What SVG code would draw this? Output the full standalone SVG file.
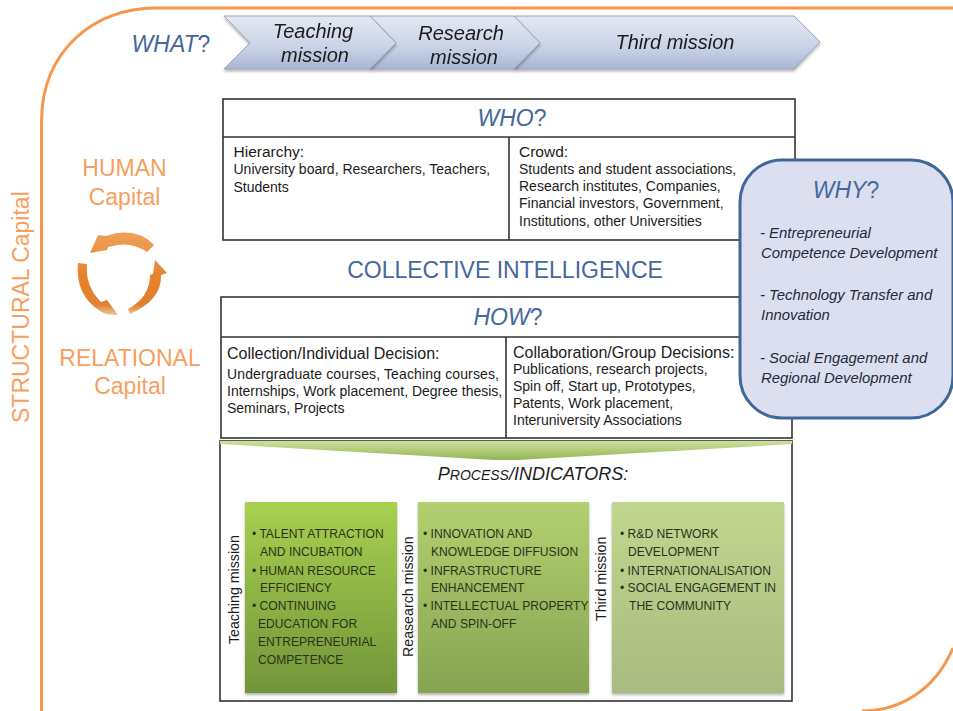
<svg xmlns="http://www.w3.org/2000/svg" width="953" height="711" viewBox="0 0 953 711">
<style>
text{font-family:"Liberation Sans",Arial,sans-serif}
.o{fill:#f79f5e;font-size:23px}
.b{fill:#45689c}
.k{fill:#1c1c1c;font-size:14px}
.h{fill:#1c1c1c;font-size:15.5px}
.h2{fill:#1c1c1c;font-size:16px}
.i{fill:#1c1c1c;font-style:italic;font-size:20px}
.y{fill:#1f2a3c;font-style:italic;font-size:14.9px}
.g{fill:#2a331a;font-size:12.1px}
.v{fill:#1c1c1c;font-size:14.2px}
.box{fill:#fff;stroke:#333;stroke-width:1.6}
.ln{fill:none;stroke:#333;stroke-width:1.6}
</style>
<defs>
<linearGradient id="ch" x1="0" y1="0" x2="0" y2="1"><stop offset="0" stop-color="#e4e8f3"/><stop offset=".6" stop-color="#c9d2e6"/><stop offset="1" stop-color="#a9b6d3"/></linearGradient>
<linearGradient id="g1" x1="0" y1="0" x2="0" y2="1"><stop offset="0" stop-color="#a8d050"/><stop offset="1" stop-color="#72953a"/></linearGradient>
<linearGradient id="g2" x1="0" y1="0" x2="0" y2="1"><stop offset="0" stop-color="#b3d070"/><stop offset="1" stop-color="#86a352"/></linearGradient>
<linearGradient id="g3" x1="0" y1="0" x2="0" y2="1"><stop offset="0" stop-color="#c1d68f"/><stop offset="1" stop-color="#a9bb80"/></linearGradient>
<linearGradient id="ar" x1="0" y1="0" x2="0" y2="1"><stop offset="0" stop-color="#cfe09a"/><stop offset="1" stop-color="#93b556"/></linearGradient>
<linearGradient id="or" gradientUnits="userSpaceOnUse" x1="0" y1="230" x2="0" y2="318"><stop offset="0" stop-color="#f0a25c"/><stop offset=".55" stop-color="#e5822a"/><stop offset=".85" stop-color="#e08030"/><stop offset="1" stop-color="#f6d8bd"/></linearGradient>
<filter id="sh" x="-5%" y="-5%" width="110%" height="115%"><feDropShadow dx="0" dy="2" stdDeviation="1.5" flood-color="#000" flood-opacity=".3"/></filter>
<filter id="bl" x="-10%" y="-10%" width="120%" height="120%"><feGaussianBlur stdDeviation=".7"/></filter>
</defs>

<g id="frame"><path d="M41.500 711V122C41.500 50 95 8 155 8H953M953 648C935 690 900 711 862 711" fill="none" stroke="#f7964b" stroke-width="3"/></g>
<g id="structural"><text transform="translate(29 423) rotate(-90)" class="o">STRUCTURAL Capital</text></g>
<g id="human"><text x="124.500" y="176" text-anchor="middle" class="o">HUMAN</text><text x="124.500" y="205" text-anchor="middle" class="o">Capital</text></g>
<g id="relational"><text x="130" y="366" text-anchor="middle" class="o">RELATIONAL</text><text x="130" y="394" text-anchor="middle" class="o">Capital</text></g>
<g id="cycle" fill="url(#or)" filter="url(#bl)">
<path d="M154 245Q136 226 106 236L98 235L90 253L107 250L108 247Q130 240 147 252Z"/>
<path d="M78 263L87 264Q85 286 101 302L107 300L118 315Q105 315 100 311Q75 295 78 263Z"/>
<path d="M155 260L167 273L161 275Q162 300 130 314L128 309Q150 297 150 275L153 274Z"/>
</g>

<g id="what"><text x="171" y="52" text-anchor="middle" fill="#45689c" font-size="23"><tspan font-style="italic">WHAT</tspan>?</text></g>
<g id="chevron-third" filter="url(#sh)"><path d="M515 16H794L820 42L794 69H515Z" fill="url(#ch)" stroke="#9aa3b8"/><text x="675" y="48.500" text-anchor="middle" class="i">Third mission</text></g>
<g id="chevron-research" filter="url(#sh)"><path d="M370 16H514L540 43L514 69H370L396 43Z" fill="url(#ch)" stroke="#9aa3b8"/><text x="461" y="39.500" text-anchor="middle" class="i">Research</text><text x="464" y="64" text-anchor="middle" class="i">mission</text></g>
<g id="chevron-teaching" filter="url(#sh)"><path d="M224 16H370L396 43L370 69H224L250 43Z" fill="url(#ch)" stroke="#9aa3b8"/><text x="313" y="38" text-anchor="middle" class="i">Teaching</text><text x="315" y="62" text-anchor="middle" class="i">mission</text></g>

<g id="who">
<rect class="box" x="223" y="99" width="572" height="141"/>
<path class="ln" d="M223 137H795M509 137V240"/>
<text x="512" y="126" text-anchor="middle" fill="#45689c" font-size="23"><tspan font-style="italic">WHO</tspan>?</text>
<text x="233.500" y="157" class="h">Hierarchy:</text>
<text x="233.500" y="174" class="k">University board, Researchers, Teachers,</text>
<text x="233.500" y="192" class="k">Students</text>
<text x="519" y="157" class="h">Crowd:</text>
<text x="519" y="174" class="k">Students and student associations,</text>
<text x="519" y="191" class="k">Research institutes, Companies,</text>
<text x="519" y="208" class="k">Financial investors, Government,</text>
<text x="519" y="226" class="k">Institutions, other Universities</text>
</g>

<g id="collective"><text x="505" y="278" text-anchor="middle" class="b" font-size="23">COLLECTIVE INTELLIGENCE</text></g>

<g id="how">
<rect class="box" x="221" y="297" width="571" height="141"/>
<path class="ln" d="M221 337H792M506 337V438"/>
<text x="508" y="325" text-anchor="middle" fill="#45689c" font-size="23"><tspan font-style="italic">HOW</tspan>?</text>
<text x="227" y="359" class="h2">Collection/Individual Decision:</text>
<text x="227" y="379" class="k" textLength="272">Undergraduate courses, Teaching courses,</text>
<text x="227" y="396" class="k">Internships, Work placement, Degree thesis,</text>
<text x="227" y="413" class="k">Seminars, Projects</text>
<text x="513" y="358" class="h2">Collaboration/Group Decisions:</text>
<text x="513" y="374" class="k">Publications, research projects,</text>
<text x="513" y="391" class="k">Spin off, Start up, Prototypes,</text>
<text x="513" y="408" class="k">Patents, Work placement,</text>
<text x="513" y="425" class="k">Interuniversity Associations</text>
</g>

<g id="why">
<rect x="740" y="160" width="213" height="258" rx="42" fill="#dcdff0" stroke="#3f6797" stroke-width="3"/>
<text x="846" y="198" text-anchor="middle" fill="#45689c" font-size="23"><tspan font-style="italic">WHY</tspan>?</text>
<text x="760" y="238" class="y">- Entrepreneurial</text>
<text x="761" y="258" class="y">Competence Development</text>
<text x="760" y="300" class="y">- Technology Transfer and</text>
<text x="761" y="320" class="y">Innovation</text>
<text x="760" y="363" class="y">- Social Engagement and</text>
<text x="761" y="383" class="y">Regional Development</text>
</g>

<g id="process">
<rect class="box" x="220" y="441" width="572" height="260"/>
<path d="M220 441H792V444L518 460H494L220 444Z" fill="url(#ar)"/>
<text x="533" y="480" text-anchor="middle" fill="#1c1c1c" font-style="italic" font-size="18">P<tspan font-size="14">ROCESS</tspan>/INDICATORS:</text>
</g>

<g id="teaching-box">
<rect x="245" y="502" width="152" height="191" fill="url(#g1)" filter="url(#sh)"/>
<text transform="translate(239 644) rotate(-90)" class="v">Teaching mission</text>
<text class="g"><tspan x="252" y="538">• TALENT ATTRACTION</tspan><tspan x="260" y="556">AND INCUBATION</tspan><tspan x="252" y="575">• HUMAN RESOURCE</tspan><tspan x="260" y="592">EFFICIENCY</tspan><tspan x="252" y="610">• CONTINUING</tspan><tspan x="258" y="628">EDUCATION FOR</tspan><tspan x="258" y="646">ENTREPRENEURIAL</tspan><tspan x="258" y="664">COMPETENCE</tspan></text>
</g>
<g id="research-box">
<rect x="418" y="502" width="171" height="191" fill="url(#g2)" filter="url(#sh)"/>
<text transform="translate(413 657) rotate(-90)" class="v">Reasearch mission</text>
<text class="g"><tspan x="423" y="538">• INNOVATION AND</tspan><tspan x="431" y="556">KNOWLEDGE DIFFUSION</tspan><tspan x="423" y="575">• INFRASTRUCTURE</tspan><tspan x="431" y="592">ENHANCEMENT</tspan><tspan x="423" y="610">• INTELLECTUAL PROPERTY</tspan><tspan x="431" y="628">AND SPIN-OFF</tspan></text>
</g>
<g id="third-box">
<rect x="612" y="502" width="172" height="191" fill="url(#g3)" filter="url(#sh)"/>
<text transform="translate(606 621) rotate(-90)" class="v">Third mission</text>
<text class="g"><tspan x="620" y="538">• R&amp;D NETWORK</tspan><tspan x="628" y="556">DEVELOPMENT</tspan><tspan x="620" y="575">• INTERNATIONALISATION</tspan><tspan x="620" y="592">• SOCIAL ENGAGEMENT IN</tspan><tspan x="629" y="610">THE COMMUNITY</tspan></text>
</g>
</svg>
